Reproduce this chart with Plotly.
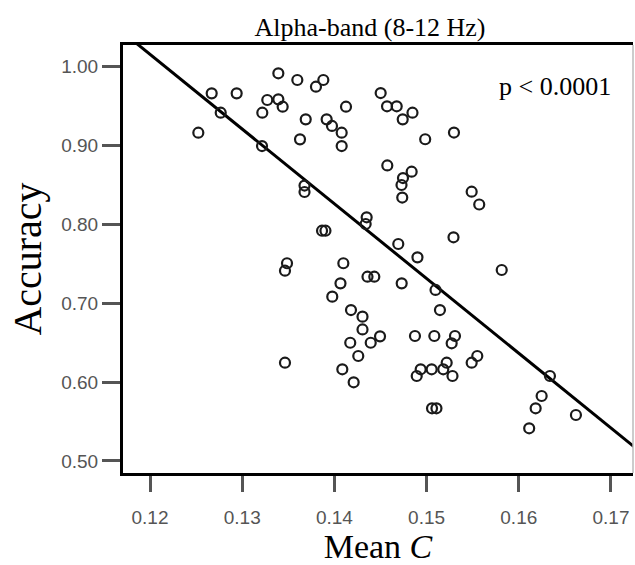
import plotly.graph_objects as go

# Mean C (x) and Accuracy (y) for each subject
mean_c = [
    0.13392, 0.13598, 0.13880, 0.13800, 0.12669, 0.12940, 0.13272, 0.13392, 0.13439, 0.14126,
    0.14502, 0.14571, 0.14676, 0.14741, 0.14847, 0.14985, 0.15297, 0.12767, 0.13218, 0.13689,
    0.13916, 0.13974, 0.14079, 0.12524, 0.13627, 0.14079, 0.13215, 0.14574, 0.13676, 0.13676,
    0.14838, 0.14744, 0.14728, 0.14736, 0.15489, 0.15571, 0.14350, 0.14339, 0.13866, 0.13903,
    0.14693, 0.15292, 0.14901, 0.15815, 0.14730, 0.15097, 0.15145, 0.13486, 0.13464, 0.14097,
    0.14066, 0.14359, 0.14433, 0.13977, 0.14180, 0.14305, 0.14305, 0.14495, 0.14394, 0.14172,
    0.14259, 0.13464, 0.14086, 0.14209, 0.14874, 0.15084, 0.15308, 0.15272, 0.15550, 0.15489,
    0.15218, 0.14936, 0.15055, 0.15181, 0.14893, 0.15281, 0.16338, 0.16248, 0.16183, 0.16620,
    0.16113, 0.15059, 0.15107,
]
accuracy = [
    0.9908, 0.9823, 0.9823, 0.9738, 0.9654, 0.9654, 0.9570, 0.9578, 0.9485, 0.9485,
    0.9658, 0.9490, 0.9490, 0.9325, 0.9409, 0.9073, 0.9158, 0.9409, 0.9409, 0.9325,
    0.9325, 0.9241, 0.9156, 0.9156, 0.9072, 0.8987, 0.8987, 0.8741, 0.8487, 0.8405,
    0.8662, 0.8582, 0.8494, 0.8335, 0.8409, 0.8247, 0.8085, 0.8000, 0.7915, 0.7915,
    0.7747, 0.7832, 0.7578, 0.7418, 0.7249, 0.7165, 0.6911, 0.7503, 0.7409, 0.7503,
    0.7249, 0.7333, 0.7333, 0.7080, 0.6911, 0.6827, 0.6665, 0.6578, 0.6497, 0.6497,
    0.6329, 0.6244, 0.6161, 0.5996, 0.6582, 0.6582, 0.6582, 0.6490, 0.6329, 0.6244,
    0.6244, 0.6161, 0.6161, 0.6161, 0.6076, 0.6076, 0.6076, 0.5823, 0.5667, 0.5582,
    0.5414, 0.5667, 0.5667,
]

# Linear fit line
fit_intercept = 2.150
fit_slope = -9.46
fit_x = [0.1165, 0.1730]
fit_y = [fit_intercept + fit_slope * v for v in fit_x]

x_ticks = [0.12, 0.13, 0.14, 0.15, 0.16, 0.17]
x_tick_labels = ["0.12", "0.13", "0.14", "0.15", "0.16", "0.17"]
y_ticks = [0.50, 0.60, 0.70, 0.80, 0.90, 1.00]
y_tick_labels = ["0.50", "0.60", "0.70", "0.80", "0.90", "1.00"]

title_text = "Alpha-band (8-12 Hz)"
x_title = "Mean <i>C</i>"
y_title = "Accuracy"
p_text = "p &lt; 0.0001"

serif = "Liberation Serif, Times New Roman, serif"
sans = "Liberation Sans, Arial, sans-serif"

fig = go.Figure()
fig.add_trace(go.Scatter(
    x=fit_x, y=fit_y, mode="lines",
    line=dict(color="black", width=3), hoverinfo="skip", showlegend=False,
))
fig.add_trace(go.Scatter(
    x=mean_c, y=accuracy, mode="markers",
    marker=dict(symbol="circle-open", size=10, color="#1a1a1a", line=dict(width=2.2, color="#1a1a1a")),
    showlegend=False, cliponaxis=False,
))

fig.update_layout(
    width=635, height=565,
    margin=dict(l=123, r=2, t=45, b=92, autoexpand=False),
    paper_bgcolor="white", plot_bgcolor="white",
    title=dict(text=title_text, x=370 / 635, xanchor="center", xref="container",
               y=1 - 27 / 565, yanchor="middle", yref="container",
               font=dict(family=serif, size=26, color="black")),
    xaxis=dict(
        range=[0.11707, 0.17239], tickvals=x_ticks, ticktext=x_tick_labels,
        showgrid=False, zeroline=False,
        showline=True, linecolor="black", linewidth=3, mirror=True,
        ticks="outside", ticklen=16, tickwidth=2.5, tickcolor="#555555",
        ticklabelstandoff=9,
        tickfont=dict(family=sans, size=19, color="#555555"),
        title=dict(text=x_title, font=dict(family=serif, size=34, color="black"), standoff=9),
    ),
    yaxis=dict(
        range=[0.4848, 1.0266], tickvals=y_ticks, ticktext=y_tick_labels,
        showgrid=False, zeroline=False,
        showline=True, linecolor="black", linewidth=3,
        ticks="outside", ticklen=18, tickwidth=2.5, tickcolor="#555555",
        tickfont=dict(family=sans, size=19, color="#555555"),
        title=dict(text=y_title, font=dict(family=serif, size=40, color="black"), standoff=8),
    ),
    shapes=[dict(type="line", xref="paper", yref="paper", x0=1, x1=1, y0=0, y1=1,
                 line=dict(color="#bbbbbb", width=1.5))],
    annotations=[dict(text=p_text, xref="paper", yref="paper", x=0.847, y=0.902,
                      xanchor="center", yanchor="middle", showarrow=False,
                      font=dict(family=serif, size=26, color="black"))],
)

fig.write_html(
    "out.html",
    config={"displayModeBar": False},
    post_script="document.body.style.margin='0';document.body.style.overflow='hidden';",
)
